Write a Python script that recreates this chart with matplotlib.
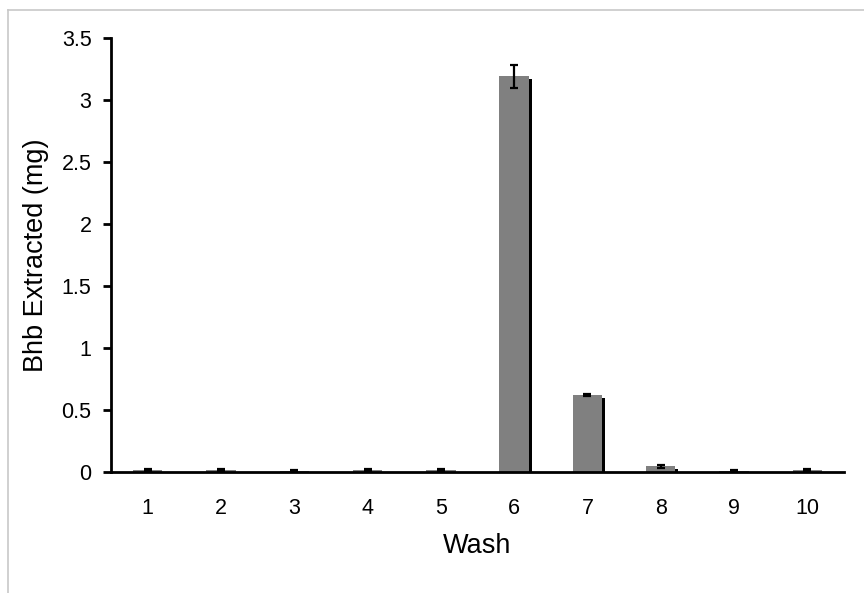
import matplotlib
matplotlib.use("Agg")
import matplotlib.pyplot as plt
import matplotlib.transforms as mtransforms
from matplotlib.lines import Line2D

plt.rcParams['font.family'] = ['Liberation Sans', 'DejaVu Sans']

# データ
washes = ['1', '2', '3', '4', '5', '6', '7', '8', '9', '10']
bhb = [0.02, 0.015, 0.01, 0.015, 0.015, 3.19, 0.62, 0.045, 0.01, 0.015]
err = [0.008, 0.008, 0.006, 0.008, 0.006, 0.095, 0.008, 0.012, 0.006, 0.006]

W, H = 864, 593
fig = plt.figure(figsize=(W / 100, H / 100), dpi=100)
ax = fig.add_axes([111 / W, 1 - 472 / H, (844 - 111) / W, (472 - 38) / H])

x = list(range(1, len(washes) + 1))

# 影 (右下に少しずらした黒いバー)
shadow = mtransforms.offset_copy(ax.transData, fig=fig, x=3, y=-3, units='dots')
ax.bar(x, bhb, width=0.4, color='black', transform=shadow, zorder=1)
ax.bar(x, bhb, width=0.4, color='#808080', zorder=2)
ax.errorbar(x, bhb, yerr=err, fmt='none', ecolor='black', elinewidth=1.6,
            capsize=3, capthick=1.6, zorder=3)

ax.set_xlim(0.5, 10.5)
ax.set_ylim(0, 3.5)
ax.set_yticks([0, 0.5, 1, 1.5, 2, 2.5, 3, 3.5])
ax.set_yticklabels(['0', '0.5', '1', '1.5', '2', '2.5', '3', '3.5'])
ax.set_xticks(x)
ax.set_xticklabels(washes)

for s in ['top', 'right']:
    ax.spines[s].set_visible(False)
for s in ['left', 'bottom']:
    ax.spines[s].set_linewidth(2)
    ax.spines[s].set_zorder(4)

ax.tick_params(axis='y', length=6, width=2, pad=8, labelsize=15.5)
ax.tick_params(axis='x', length=0, pad=19, labelsize=15.5)

ax.set_xlabel('Wash', fontsize=19.5, labelpad=10)
ax.set_ylabel('Bhb Extracted (mg)', fontsize=19.5, labelpad=9)

# 外枠
fig.add_artist(Line2D([8 / W, 1], [1 - 10 / H, 1 - 10 / H], color='#c8c8c8', lw=1.2))
fig.add_artist(Line2D([8 / W, 8 / W], [0, 1 - 10 / H], color='#c8c8c8', lw=1.2))

plt.savefig('out.png', dpi=100)
